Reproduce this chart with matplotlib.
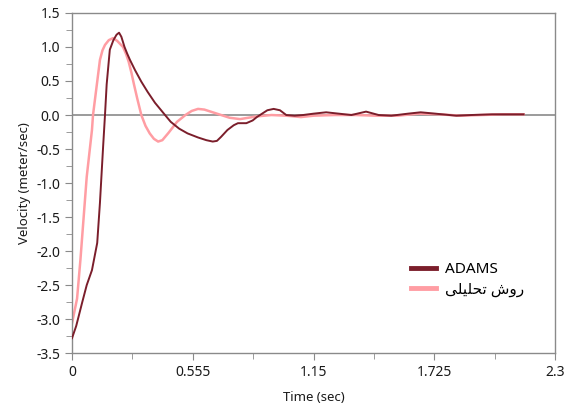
import matplotlib
matplotlib.use("Agg")
import matplotlib.pyplot as plt
from matplotlib.ticker import FixedLocator

# ADAMS curve
adams_t = [0, 0.02, 0.048, 0.07, 0.095, 0.12, 0.133, 0.148, 0.157, 0.165, 0.18, 0.197, 0.212,
           0.224, 0.235, 0.25, 0.263, 0.276, 0.30, 0.33, 0.36, 0.395, 0.443, 0.47, 0.51, 0.55,
           0.60, 0.64, 0.67, 0.69, 0.71, 0.74, 0.77, 0.79, 0.83, 0.86, 0.88, 0.91, 0.93, 0.96,
           0.99, 1.02, 1.06, 1.10, 1.15, 1.21, 1.27, 1.33, 1.40, 1.46, 1.52, 1.60, 1.66, 1.73,
           1.83, 1.90, 2.0, 2.08, 2.15]
adams_v = [-3.28, -3.1, -2.76, -2.5, -2.28, -1.88, -1.29, -0.47, 0.0, 0.45, 0.96, 1.1, 1.18,
           1.21, 1.15, 1.0, 0.9, 0.81, 0.66, 0.49, 0.34, 0.18, 0.0, -0.10, -0.20, -0.27,
           -0.33, -0.37, -0.39, -0.38, -0.32, -0.22, -0.15, -0.12, -0.12, -0.08, -0.03, 0.03, 0.07, 0.09,
           0.07, 0.0, -0.01, 0.0, 0.02, 0.04, 0.02, 0.0, 0.05, 0.0, -0.01, 0.02, 0.04, 0.02,
           -0.01, 0.0, 0.01, 0.01, 0.01]

# analytical method curve
anal_t = [0, 0.024, 0.04, 0.07, 0.095, 0.10, 0.133, 0.145, 0.157, 0.175, 0.195, 0.215, 0.243,
          0.257, 0.27, 0.283, 0.295, 0.31, 0.33, 0.35, 0.37, 0.39, 0.41, 0.43, 0.46, 0.50,
          0.54, 0.57, 0.60, 0.63, 0.66, 0.69, 0.75, 0.80, 0.88, 0.95, 1.02, 1.09, 1.15, 1.25,
          1.35, 1.45, 1.55, 1.65, 1.75, 1.85, 1.95, 2.05, 2.15]
anal_v = [-3.06, -2.7, -2.13, -0.91, -0.22, 0.0, 0.81, 0.95, 1.03, 1.1, 1.13, 1.09, 1.0,
          0.9, 0.78, 0.62, 0.45, 0.25, 0.0, -0.16, -0.27, -0.35, -0.39, -0.37, -0.26, -0.10,
          0.0, 0.06, 0.09, 0.08, 0.05, 0.02, -0.04, -0.06, -0.02, 0.0, -0.01, -0.03, -0.01, 0.0,
          0.0, -0.01, -0.01, 0.02, 0.01, -0.01, 0.0, 0.01, 0.01]

x_ticks = [0, 0.575, 1.15, 1.725, 2.3]
x_labels = ["0", "0.555", "1.15", "1.725", "2.3"]
y_ticks = [1.5, 1.0, 0.5, 0.0, -0.5, -1.0, -1.5, -2.0, -2.5, -3.0, -3.5]
y_labels = ["1.5", "1.0", "0.5", "0.0", "-0.5", "-1.0", "-1.5", "-2.0", "-2.5", "-3.0", "-3.5"]

# "روش تحلیلی" written with presentation forms in visual order (matplotlib does no shaping)
label_anal = "\uFBFD\uFEE0\uFBFF\uFEE0\uFEA4\uFE97 \uFEB5\uFEED\uFEAD"

plt.rcParams['font.family'] = ['Noto Sans', 'DejaVu Sans']

fig = plt.figure(figsize=(5.67, 4.05), dpi=100)
ax = fig.add_axes([0.127, 0.128, 0.852, 0.840])

gray = '#8a8a8a'
ax.axhline(0, color=gray, linewidth=1.2, zorder=1)
ax.plot(adams_t, adams_v, color='#7b1e2b', linewidth=1.4, label='ADAMS', zorder=3)
ax.plot(anal_t, anal_v, color='#ff9da3', linewidth=1.8, label=label_anal, zorder=2)

ax.set_xlim(0, 2.3)
ax.set_ylim(-3.5, 1.5)
ax.set_xticks(x_ticks)
ax.set_xticklabels(x_labels)
ax.set_yticks(y_ticks)
ax.set_yticklabels(y_labels)
ax.xaxis.set_minor_locator(FixedLocator([0.2875, 0.8625, 1.4375, 2.0125]))
ax.yaxis.set_minor_locator(FixedLocator([1.25 - 0.5 * i for i in range(10)]))

for s in ax.spines.values():
    s.set_color(gray)
    s.set_linewidth(1.0)
ax.tick_params(which='both', direction='out', color=gray, labelsize=10, labelcolor='#1a1a1a')
ax.tick_params(which='major', length=5)
ax.tick_params(which='minor', length=4)

ax.set_xlabel("Time (sec)", fontsize=9.5, color='#1a1a1a', labelpad=8)
ax.set_ylabel("Velocity (meter/sec)", fontsize=9.5, color='#1a1a1a', labelpad=4)

leg = ax.legend(loc='upper left', bbox_to_anchor=(0.69, 0.285), frameon=False,
                fontsize=11, handlelength=1.6, handletextpad=0.6, labelspacing=0.35,
                borderaxespad=0)
for h in leg.get_lines():
    h.set_linewidth(3.5)

fig.savefig("out.png", dpi=100)
